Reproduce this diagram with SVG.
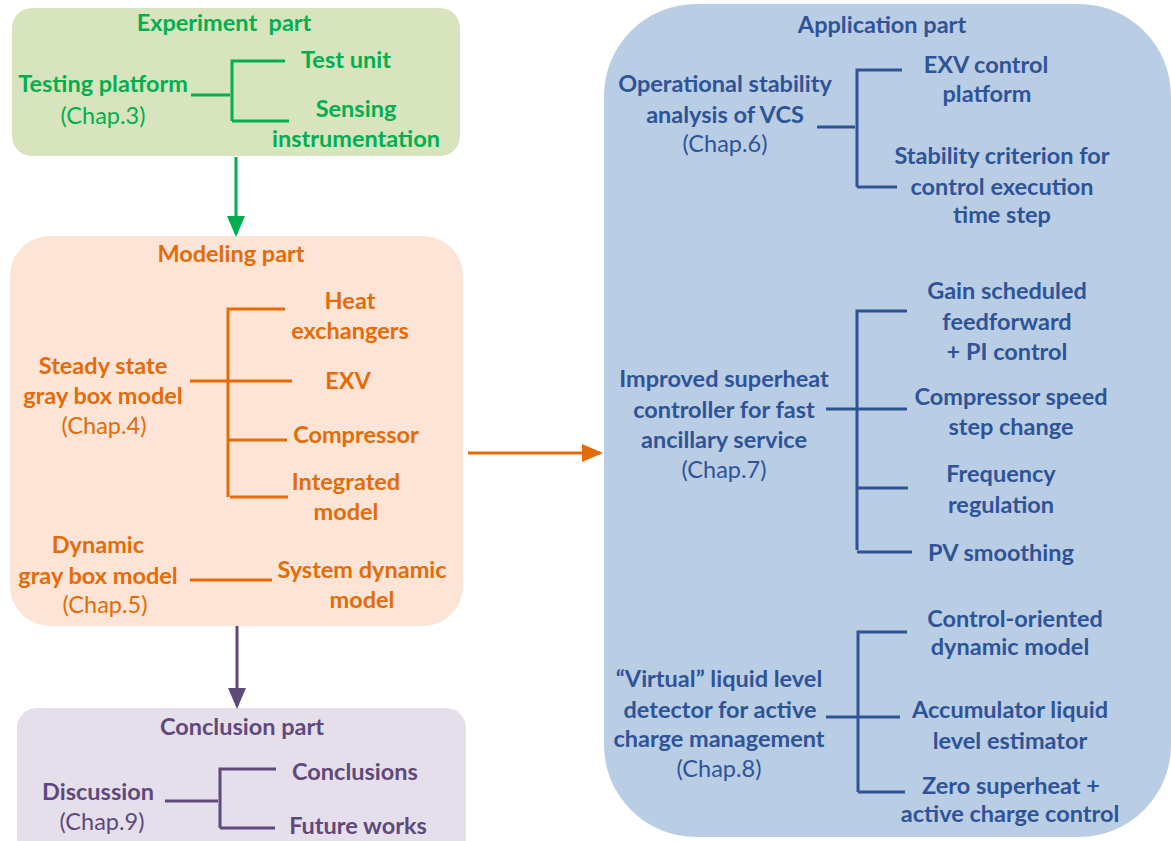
<svg xmlns="http://www.w3.org/2000/svg" width="1171" height="841" viewBox="0 0 1171 841">
<defs>
<style>
text{font-family:Lato,"Open Sans","Liberation Sans",sans-serif;font-size:23.5px;font-weight:bold;text-anchor:middle}
text.c{font-weight:normal}
.g{fill:#00b050}.o{fill:#e36c09}.p{fill:#5f497a}.b{fill:#2f5496}
.lg,.lo,.lp,.lb{fill:none;stroke-width:3}
.lg{stroke:#00b050}.lo{stroke:#e36c09}.lp{stroke:#5f497a}.lb{stroke:#2f5496}
</style>
<marker id="ag" markerWidth="7" markerHeight="6" refX="6" refY="3" orient="auto" markerUnits="strokeWidth"><path d="M0,0L7,3L0,6z" fill="#00b050"/></marker>
<marker id="ao" markerWidth="7" markerHeight="6" refX="6" refY="3" orient="auto" markerUnits="strokeWidth"><path d="M0,0L7,3L0,6z" fill="#e36c09"/></marker>
<marker id="ap" markerWidth="7" markerHeight="6" refX="6" refY="3" orient="auto" markerUnits="strokeWidth"><path d="M0,0L7,3L0,6z" fill="#5f497a"/></marker>
</defs>

<g id="experiment">
<rect x="12" y="8" width="448" height="148" rx="20" fill="#d7e4bd"/>
<text class="g" x="224" y="31" xml:space="preserve">Experiment  part</text>
<text class="g" x="103" y="92">Testing platform</text>
<text class="g c" x="103" y="124">(Chap.3)</text>
<text class="g" x="346" y="68">Test unit</text>
<text class="g" x="356" y="117">Sensing</text>
<text class="g" x="356" y="147">instrumentation</text>
<path class="lg" d="M191,95H230M232,121V61H285M232,121H289"/>
</g>

<g id="modeling">
<rect x="10" y="236" width="453" height="390" rx="40" fill="#fce4d6"/>
<text class="o" x="231" y="262">Modeling part</text>
<text class="o" x="350" y="309">Heat</text>
<text class="o" x="350" y="339">exchangers</text>
<text class="o" x="348" y="389">EXV</text>
<text class="o" x="356" y="443">Compressor</text>
<text class="o" x="346" y="490">Integrated</text>
<text class="o" x="346" y="520">model</text>
<text class="o" x="103" y="374">Steady state</text>
<text class="o" x="103" y="404">gray box model</text>
<text class="o c" x="104" y="434">(Chap.4)</text>
<text class="o" x="98" y="553">Dynamic</text>
<text class="o" x="98" y="584">gray box model</text>
<text class="o c" x="105" y="613">(Chap.5)</text>
<text class="o" x="362" y="578">System dynamic</text>
<text class="o" x="362" y="608">model</text>
<path class="lo" d="M190,381H292M228,497V309H285M228,440H287M230,497H288M190,580H272"/>
</g>

<g id="conclusion">
<rect x="17" y="708" width="449" height="150" rx="20" fill="#e5dfec"/>
<text class="p" x="242" y="735">Conclusion part</text>
<text class="p" x="355" y="780">Conclusions</text>
<text class="p" x="98" y="800">Discussion</text>
<text class="p c" x="102" y="830">(Chap.9)</text>
<text class="p" x="358" y="834">Future works</text>
<path class="lp" d="M165,801H218M220,828V769H276M220,828H275"/>
</g>

<g id="application">
<rect x="604" y="4" width="567" height="833" rx="92" fill="#b9cde5"/>
<text class="b" x="882" y="33">Application part</text>
<text class="b" x="725" y="92">Operational stability</text>
<text class="b" x="725" y="123">analysis of VCS</text>
<text class="b c" x="725" y="152">(Chap.6)</text>
<text class="b" x="986" y="73">EXV control</text>
<text class="b" x="987" y="102">platform</text>
<text class="b" x="1002" y="164">Stability criterion for</text>
<text class="b" x="1002" y="195">control execution</text>
<text class="b" x="1002" y="223">time step</text>
<path class="lb" d="M817,127H855M857,187V70H902M857,187H897"/>

<text class="b" x="724" y="387">Improved superheat</text>
<text class="b" x="724" y="418">controller for fast</text>
<text class="b" x="724" y="448">ancillary service</text>
<text class="b c" x="724" y="478">(Chap.7)</text>
<text class="b" x="1007" y="299">Gain scheduled</text>
<text class="b" x="1007" y="330">feedforward</text>
<text class="b" x="1007" y="360">+ PI control</text>
<text class="b" x="1011" y="405">Compressor speed</text>
<text class="b" x="1011" y="435">step change</text>
<text class="b" x="1001" y="482">Frequency</text>
<text class="b" x="1001" y="513">regulation</text>
<text class="b" x="1001" y="561">PV smoothing</text>
<path class="lb" d="M826,409H907M857,550V311H907M857,488H908M857,552H912"/>

<text class="b" x="719" y="687">“Virtual” liquid level</text>
<text class="b" x="720" y="718">detector for active</text>
<text class="b" x="719" y="747">charge management</text>
<text class="b c" x="719" y="777">(Chap.8)</text>
<text class="b" x="1015" y="627">Control-oriented</text>
<text class="b" x="1010" y="655">dynamic model</text>
<text class="b" x="1010" y="718">Accumulator liquid</text>
<text class="b" x="1010" y="749">level estimator</text>
<text class="b" x="1011" y="794">Zero superheat +</text>
<text class="b" x="1010" y="822">active charge control</text>
<path class="lb" d="M826,717H900M858,792V632H907M858,792H905"/>
</g>

<g id="connectors">
<path class="lg" d="M236,157V234" marker-end="url(#ag)"/>
<path class="lo" d="M468,453H600" marker-end="url(#ao)"/>
<path class="lp" d="M237,626V706" marker-end="url(#ap)"/>
</g>
</svg>
